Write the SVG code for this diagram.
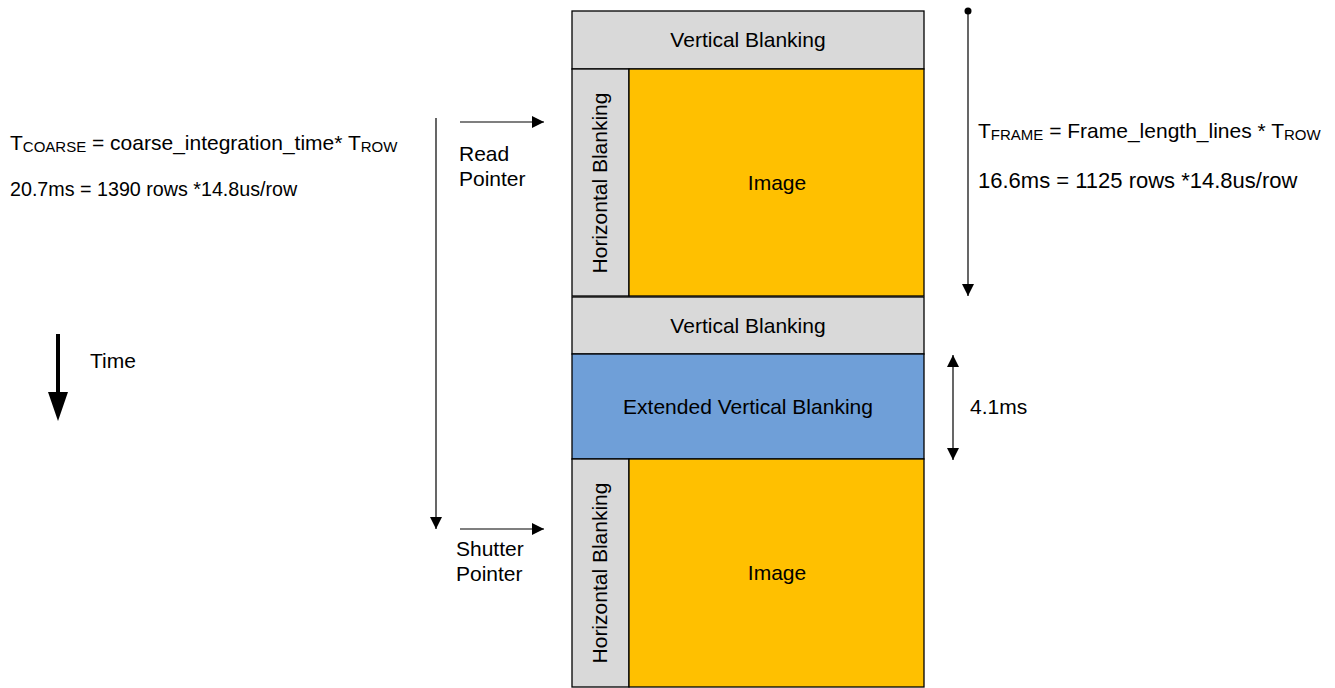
<svg xmlns="http://www.w3.org/2000/svg" width="1335" height="688" viewBox="0 0 1335 688">
<style>
text{font-family:"Liberation Sans",Arial,sans-serif;font-size:21px;fill:#000}
.c{text-anchor:middle}
.gray{fill:#d9d9d9;stroke:#000;stroke-width:1.3}
.img{fill:#ffc000;stroke:#000;stroke-width:1.3}
.blue{fill:#6f9fd8;stroke:#000;stroke-width:1.3}
.ln{stroke:#000;stroke-width:1.2;fill:none}
.sub{font-size:15px}
</style>
<defs>
<marker id="ah" viewBox="0 0 10 10" refX="10" refY="5" markerWidth="14" markerHeight="12" markerUnits="userSpaceOnUse" orient="auto">
<path d="M0,0 L10,5 L0,10 z" fill="#000"/>
</marker>
<marker id="ahs" viewBox="0 0 10 10" refX="10" refY="5" markerWidth="14" markerHeight="12" markerUnits="userSpaceOnUse" orient="auto-start-reverse">
<path d="M0,0 L10,5 L0,10 z" fill="#000"/>
</marker>
</defs>
<g id="vb1"><rect class="gray" x="572" y="11" width="352" height="58"/><text class="c" x="748" y="47">Vertical Blanking</text></g>
<g id="hb1"><rect class="gray" x="572" y="69" width="57" height="227"/><text class="c" transform="translate(607,183) rotate(-90)">Horizontal Blanking</text></g>
<g id="img1"><rect class="img" x="629" y="69" width="295" height="227"/><text class="c" x="777" y="190">Image</text></g>
<g id="vb2"><rect class="gray" x="572" y="297" width="352" height="57"/><text class="c" x="748" y="333">Vertical Blanking</text></g>
<g id="evb"><rect class="blue" x="572" y="354" width="352" height="105"/><text class="c" x="748" y="414">Extended Vertical Blanking</text></g>
<g id="hb2"><rect class="gray" x="572" y="459" width="57" height="228"/><text class="c" transform="translate(607,573) rotate(-90)">Horizontal Blanking</text></g>
<g id="img2"><rect class="img" x="629" y="459" width="295" height="228"/><text class="c" x="777" y="580">Image</text></g>
<g id="connectors">
<circle cx="968" cy="11" r="3.5" fill="#000"/>
<line class="ln" x1="968" y1="11" x2="968" y2="296" marker-end="url(#ah)"/>
<line class="ln" x1="953" y1="355" x2="953" y2="460" marker-start="url(#ahs)" marker-end="url(#ah)"/>
<line class="ln" x1="436" y1="118" x2="436" y2="529" marker-end="url(#ah)"/>
<line class="ln" x1="460" y1="122" x2="544" y2="122" marker-end="url(#ah)"/>
<line class="ln" x1="460" y1="529" x2="544" y2="529" marker-end="url(#ah)"/>
<line x1="58" y1="334" x2="58" y2="396" stroke="#000" stroke-width="4"/>
<path d="M48,392 L68,392 L58,421 z" fill="#000"/>
</g>
<g id="labels">
<text x="10" y="150">T<tspan class="sub" dy="1.5">COARSE</tspan><tspan dy="-1.5"> = coarse_integration_time* T</tspan><tspan class="sub" dy="1.5">ROW</tspan></text>
<text x="10" y="196" style="font-size:19.7px">20.7ms = 1390 rows *14.8us/row</text>
<text x="978" y="138">T<tspan class="sub" dy="1.5">FRAME</tspan><tspan dy="-1.5"> = Frame_length_lines * T</tspan><tspan class="sub" dy="1.5">ROW</tspan></text>
<text x="978" y="188" style="font-size:22px">16.6ms = 1125 rows *14.8us/row</text>
<text x="459" y="161">Read</text>
<text x="459" y="186">Pointer</text>
<text x="456" y="556">Shutter</text>
<text x="456" y="581">Pointer</text>
<text x="90" y="368">Time</text>
<text x="970" y="414">4.1ms</text>
</g>
</svg>
